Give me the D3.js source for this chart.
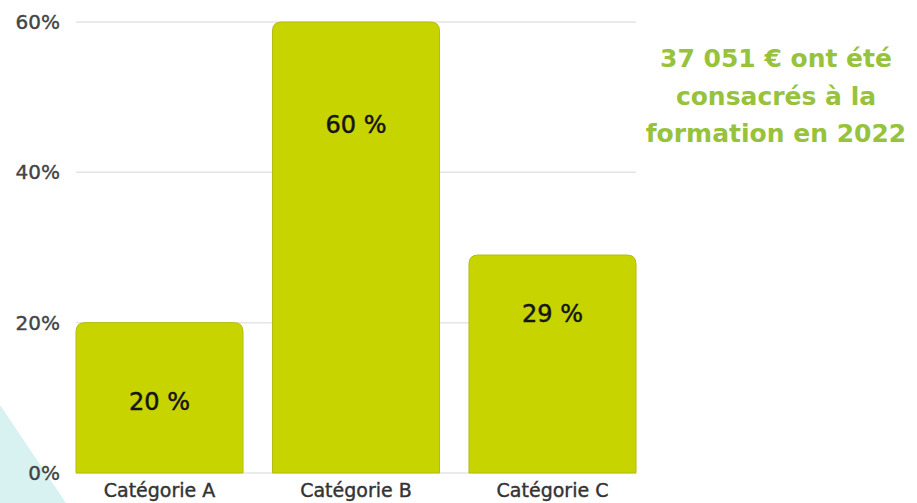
<!DOCTYPE html>
<html>
<head>
<meta charset="utf-8">
<script src="https://cdn.jsdelivr.net/npm/d3@7"></script>
<style>
  body { margin: 0; background: #fff; }
  svg { display: block; }
</style>
</head>
<body>
<div id="chart"></div>
<script>
var categories = ["Catégorie A", "Catégorie B", "Catégorie C"];
var values = [20, 60, 29];
var valueLabels = ["20 %", "60 %", "29 %"];
var yTicks = [0, 20, 40, 60];
var noteLines = ["37 051 € ont été", "consacrés à la", "formation en 2022"];

// how far below the bar top each value label sits (px)
var labelOffsets = [87, 111, 67];

var full_width = 917, full_height = 503;
var margin = {top: 22, left: 76, right: 281, bottom: 30};
var width = full_width - margin.left - margin.right;
var height = full_height - margin.top - margin.bottom;
var font = "'DejaVu Sans', Verdana, sans-serif";

var svg = d3.select("#chart")
  .append("svg")
    .attr("width", full_width)
    .attr("height", full_height);

// pale decoration in the bottom-left corner
svg.append("path")
  .attr("d", "M0,405 L66,503 L0,503 Z")
  .style("fill", "#d8f1f1");

var g = svg.append("g")
  .attr("transform", "translate(" + margin.left + "," + margin.top + ")");

var x = d3.scaleBand()
  .domain(categories)
  .range([0, width])
  .paddingInner(0.15)
  .paddingOuter(0);

var y = d3.scaleLinear()
  .domain([0, 60])
  .range([height, 0]);

// grid lines
g.selectAll(".grid")
  .data(yTicks)
  .enter()
  .append("line")
    .attr("x1", 0)
    .attr("x2", width)
    .attr("y1", d => y(d))
    .attr("y2", d => y(d))
    .style("stroke", "#e4e4e4")
    .style("stroke-width", 1.5);

// y axis labels
var yAxis = g.append("g")
  .call(d3.axisLeft(y).tickValues(yTicks).tickFormat(d => d + "%").tickSize(0).tickPadding(16));
yAxis.select(".domain").remove();
yAxis.selectAll("text")
  .style("font", "20px " + font)
  .style("fill", "#444")
  .style("stroke", "#444")
  .style("stroke-width", 0.4);

// bars with rounded top corners
var r = 9;
function barPath(d, i) {
  var x0 = x(categories[i]), x1 = x0 + x.bandwidth();
  var y0 = y(d), yb = y(0);
  return "M" + x0 + "," + yb +
    " L" + x0 + "," + (y0 + r) +
    " Q" + x0 + "," + y0 + " " + (x0 + r) + "," + y0 +
    " L" + (x1 - r) + "," + y0 +
    " Q" + x1 + "," + y0 + " " + x1 + "," + (y0 + r) +
    " L" + x1 + "," + yb + " Z";
}

g.selectAll(".bar")
  .data(values)
  .enter()
  .append("path")
    .attr("class", "bar")
    .attr("d", barPath)
    .style("fill", "#c8d400")
    .style("stroke", "#b4bd10")
    .style("stroke-width", 1);

// value labels inside the bars
g.selectAll(".vlabel")
  .data(values)
  .enter()
  .append("text")
    .attr("x", (d, i) => x(categories[i]) + x.bandwidth() / 2)
    .attr("y", (d, i) => y(d) + labelOffsets[i])
    .style("text-anchor", "middle")
    .style("font", "24px " + font)
    .style("fill", "#151515")
    .style("stroke", "#151515")
    .style("stroke-width", 0.5)
    .text((d, i) => valueLabels[i]);

// category labels
var xAxis = g.append("g")
  .attr("transform", "translate(0," + height + ")")
  .call(d3.axisBottom(x).tickSize(0).tickPadding(11));
xAxis.select(".domain").remove();
xAxis.selectAll("text")
  .style("font", "19px " + font)
  .style("fill", "#333")
  .style("stroke", "#333")
  .style("stroke-width", 0.4);

// side note
svg.append("text")
  .attr("x", 776)
  .attr("y", 67)
  .style("text-anchor", "middle")
  .style("font", "bold 25px " + font)
  .style("fill", "#97c23c")
  .selectAll("tspan")
  .data(noteLines)
  .enter()
  .append("tspan")
    .attr("x", 776)
    .attr("dy", (d, i) => i === 0 ? 0 : 37.5)
    .text(d => d);
</script>
</body>
</html>
